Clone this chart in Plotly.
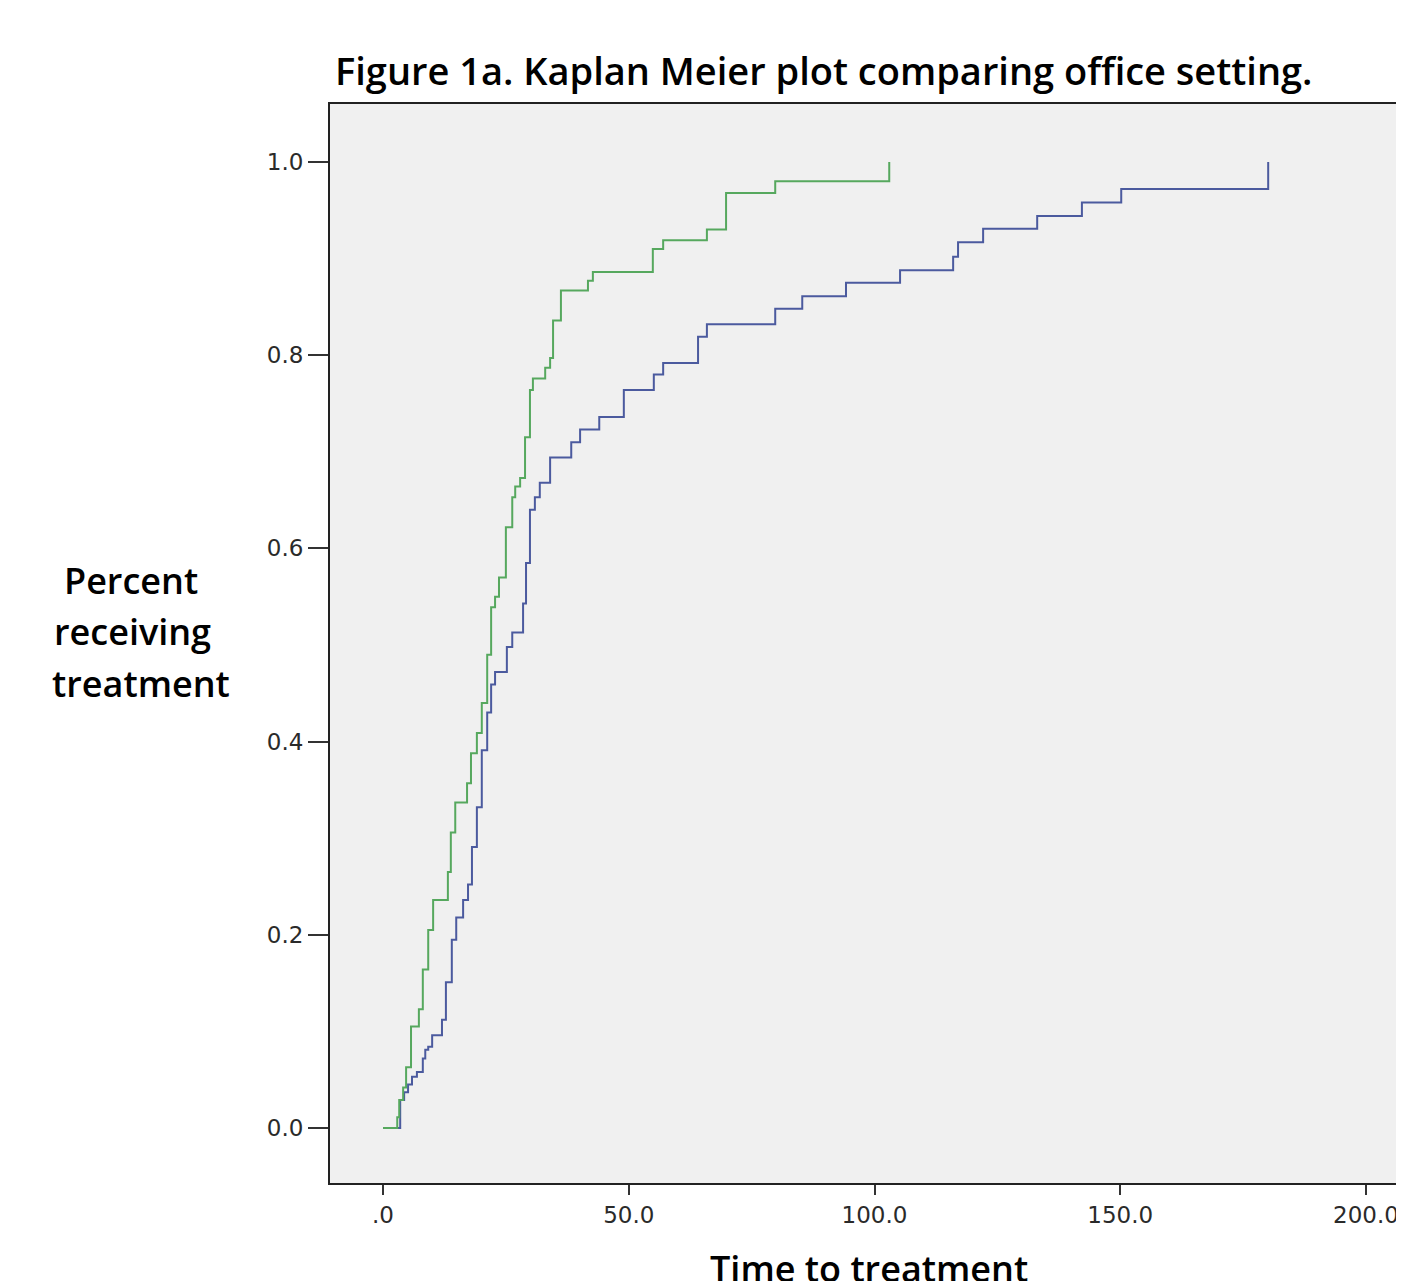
import plotly.graph_objects as go

# ---- data ----
green_time = [0, 2.9, 3.3, 4.1, 4.7, 5.7, 7.3, 8.1, 9.2, 10.2,
              13.2, 13.8, 14.7, 17.1, 17.9, 19.1, 20.1, 21.2, 22.0, 22.8,
              23.6, 25.0, 26.3, 26.9, 27.9, 28.9, 29.9, 30.5, 33.0, 34.0,
              34.6, 36.2, 41.7, 42.7, 54.9, 57.0, 65.9, 69.8, 79.8, 103.0]
green_pct = [0, 0.011, 0.029, 0.042, 0.063, 0.105, 0.123, 0.164, 0.205, 0.236,
             0.265, 0.306, 0.337, 0.357, 0.388, 0.409, 0.440, 0.490, 0.539, 0.550,
             0.570, 0.622, 0.653, 0.664, 0.673, 0.715, 0.764, 0.776, 0.787, 0.797,
             0.836, 0.867, 0.877, 0.886, 0.910, 0.919, 0.930, 0.968, 0.980, 1.0]

blue_time = [0, 3.5, 4.3, 5.1, 5.9, 6.9, 8.1, 8.6, 9.2, 10.0,
             12.0, 12.8, 14.0, 14.9, 16.3, 17.3, 18.1, 19.1, 20.1, 21.2,
             22.0, 22.8, 25.2, 26.3, 28.5, 29.1, 29.9, 30.9, 31.9, 34.0,
             38.3, 40.1, 44.0, 49.0, 55.1, 57.0, 64.1, 65.9, 79.8, 85.3,
             94.2, 105.2, 116.0, 117.0, 122.1, 133.1, 142.2, 150.2, 180.1]
blue_pct = [0, 0.029, 0.037, 0.045, 0.053, 0.058, 0.072, 0.081, 0.084, 0.096,
            0.112, 0.151, 0.195, 0.218, 0.236, 0.252, 0.291, 0.332, 0.391, 0.430,
            0.459, 0.472, 0.498, 0.513, 0.543, 0.585, 0.640, 0.653, 0.668, 0.694,
            0.710, 0.723, 0.736, 0.764, 0.780, 0.792, 0.819, 0.832, 0.848, 0.861,
            0.875, 0.888, 0.902, 0.917, 0.931, 0.944, 0.958, 0.972, 1.0]

x_tickvals = [0, 50, 100, 150, 200]
x_ticktext = [".0", "50.0", "100.0", "150.0", "200.0"]
y_tickvals = [0, 0.2, 0.4, 0.6, 0.8, 1.0]
y_ticktext = ["0.0", "0.2", "0.4", "0.6", "0.8", "1.0"]

title_text = "Figure 1a. Kaplan Meier plot comparing office setting."
y_label_lines = ["Percent", "receiving", "treatment"]
x_label = "Time to treatment"

# ---- layout geometry (pixels, figure coords; page adds an 8px body margin) ----
OFF = 8
W, H = 1404, 1281
L, T, B = 330 - OFF, 104 - OFF, 1183 - OFF
PW, PH = W - L, B - T


def px(x):
    return (x - OFF - L) / PW


def py(y):
    return (B - (y - OFF)) / PH


fig = go.Figure()
fig.add_trace(go.Scatter(x=blue_time, y=blue_pct, mode="lines",
                         line=dict(shape="hv", color="#4b5a9e", width=2),
                         showlegend=False, hoverinfo="skip"))
fig.add_trace(go.Scatter(x=green_time, y=green_pct, mode="lines",
                         line=dict(shape="hv", color="#56a85e", width=2),
                         showlegend=False, hoverinfo="skip"))

# axis ranges chosen so that 0 -> x=383px, 200 -> x=1366px; y 0 -> 1128px, 1 -> 162px
x_per_px = 200 / (1366 - 383)
x0 = -(383 - 330) * x_per_px
x1 = x0 + PW * x_per_px
y_per_px = 1 / (1128 - 162)
y0 = -(1183 - 1128) * y_per_px
y1 = y0 + PH * y_per_px

tick_font = dict(family="DejaVu Sans", size=23, color="#2a2a2a")
fig.update_layout(
    width=W, height=H,
    margin=dict(l=L, r=0, t=T, b=H - B, pad=0),
    paper_bgcolor="white",
    plot_bgcolor="#f0f0f0",
    showlegend=False,
    xaxis=dict(range=[x0, x1], tickvals=x_tickvals, ticktext=x_ticktext,
               showgrid=False, zeroline=False, showline=True, linecolor="#222",
               linewidth=2, mirror=True, ticks="outside", ticklen=10,
               tickwidth=1.5, tickcolor="#333", tickfont=tick_font),
    yaxis=dict(range=[y0, y1], tickvals=y_tickvals, ticktext=y_ticktext,
               showgrid=False, zeroline=False, showline=True, linecolor="#222",
               linewidth=2, mirror=False, ticks="outside", ticklen=20,
               tickwidth=1.5, tickcolor="#333", tickfont=tick_font),
)

fig.add_annotation(text=title_text, xref="paper", yref="paper",
                   x=px(333), y=py(70), xanchor="left", yanchor="middle",
                   showarrow=False,
                   font=dict(family="Open Sans", size=38, color="black", weight=600))
label_font = dict(family="Open Sans", size=36, color="black", weight=600)
centers_x = [131, 132, 141]
centers_y = [580, 631, 683]
for t, cx, cy in zip(y_label_lines, centers_x, centers_y):
    fig.add_annotation(text=t, xref="paper", yref="paper",
                       x=px(cx), y=py(cy), xanchor="center", yanchor="middle",
                       showarrow=False, font=label_font)
fig.add_annotation(text=x_label, xref="paper", yref="paper",
                   x=px(869), y=py(1268), xanchor="center", yanchor="middle",
                   showarrow=False, font=label_font)

fig.write_html("out.html")
